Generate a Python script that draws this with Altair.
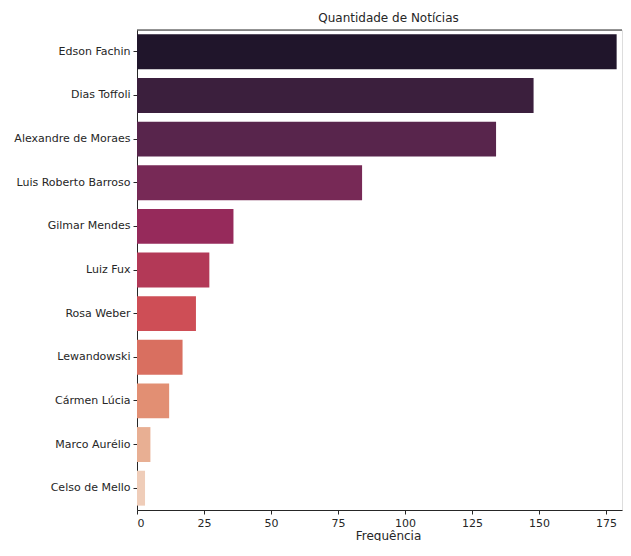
import colorsys
import altair as alt
import pandas as pd

# ---- data ----
ministros = [
    "Edson Fachin", "Dias Toffoli", "Alexandre de Moraes", "Luis Roberto Barroso",
    "Gilmar Mendes", "Luiz Fux", "Rosa Weber", "Lewandowski", "Cármen Lúcia",
    "Marco Aurélio", "Celso de Mello",
]
frequencia = [179, 148, 134, 84, 36, 27, 22, 17, 12, 5, 3]
x_ticks = [0, 25, 50, 75, 100, 125, 150, 175]

# seaborn "rocket" palette (11 colours), then seaborn's saturation=0.75
rocket_11 = [
    "#20112f", "#3f1a42", "#611d51", "#841c58", "#a81859", "#c7254d",
    "#e33943", "#ed604c", "#f48661", "#f6aa85", "#f8cbb0",
]


def desaturate(hex_color, prop=0.75):
    r, g, b = (int(hex_color[i:i + 2], 16) / 255 for i in (1, 3, 5))
    h, l, s = colorsys.rgb_to_hls(r, g, b)
    r, g, b = colorsys.hls_to_rgb(h, l, s * prop)
    return "#{:02x}{:02x}{:02x}".format(round(r * 255), round(g * 255), round(b * 255))


cores = [desaturate(c) for c in rocket_11]

df = pd.DataFrame({"Ministro": ministros, "Frequência": frequencia, "cor": cores})

W, H = 485, 480
ink = "#262626"
font = "DejaVu Sans"

bars = alt.Chart(df).mark_bar().encode(
    y=alt.Y(
        "Ministro:N",
        sort=ministros,
        scale=alt.Scale(paddingInner=0.2, paddingOuter=0.1),
        axis=alt.Axis(
            title=None, labelFontSize=11, labelColor=ink, tickSize=4,
            tickColor=ink, domainColor=ink, labelPadding=3, labelLimit=300,
            labelFont=font,
        ),
    ),
    x=alt.X(
        "Frequência:Q",
        scale=alt.Scale(domain=[0, 181], nice=False, zero=True),
        axis=alt.Axis(
            values=x_ticks, grid=False, labelFontSize=11, labelColor=ink,
            tickSize=4, tickColor=ink, domainColor=ink, labelPadding=3,
            title="Frequência", titleFontSize=12, titleFontWeight="normal",
            titleColor=ink, titlePadding=2, titleFont=font, labelFont=font,
            titleX=251, titleAnchor="middle",
        ),
    ),
    color=alt.Color("cor:N", scale=None, legend=None),
)

top_spine = alt.Chart(pd.DataFrame({"s": [0]})).mark_rule(
    color=ink, strokeWidth=1
).encode(y=alt.value(0), x=alt.value(0), x2=alt.value(W))

chart = (
    alt.layer(bars, top_spine)
    .properties(
        width=W,
        height=H,
        title=alt.TitleParams(
            "Quantidade de Notícias", fontSize=12, fontWeight="normal",
            font=font, color=ink, offset=5, anchor="middle", frame="group", dx=9,
        ),
        padding={"left": 5, "right": 0, "top": 3, "bottom": 0},
    )
    .configure_view(stroke=None)
    .configure(font=font)
)

chart.save("out.html", embed_options={"renderer": "svg", "actions": False})
